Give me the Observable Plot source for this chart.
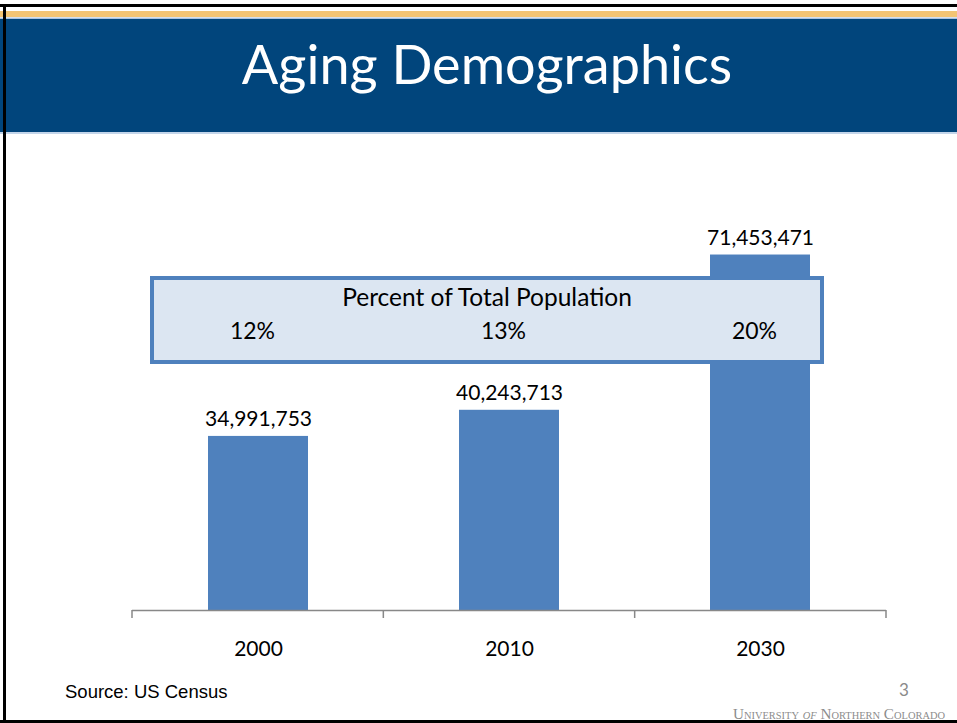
<!DOCTYPE html>
<html><head><meta charset="utf-8">
<script src="https://cdn.jsdelivr.net/npm/d3@7"></script>
<script src="https://cdn.jsdelivr.net/npm/@observablehq/plot@0.6"></script>
<style>
html,body{margin:0;padding:0;background:#fff;}
#slide{position:relative;width:957px;height:723px;overflow:hidden;background:#fff;}
#deco{position:absolute;left:0;top:0;}
#chart{position:absolute;left:0;top:140px;}
</style>
</head><body>
<div id="slide">
<svg id="deco" width="957" height="723" xmlns="http://www.w3.org/2000/svg">
  <rect x="0" y="4" width="957" height="3" fill="#000"/>
  <rect x="0" y="11" width="957" height="6" fill="#F3C474"/>
  <rect x="0" y="17.5" width="957" height="1.5" fill="#A9C2DF"/>
  <rect x="0" y="19" width="957" height="113" fill="#01457C"/>
  <rect x="0" y="132" width="957" height="2" fill="#C3D5EA"/>
  <text x="487" y="84" text-anchor="middle" fill="#fff" font-family="Lato" font-size="54">Aging Demographics</text>
  <text x="65" y="698" fill="#000" font-family="Liberation Sans, Arial" font-size="18.5">Source: US Census</text>
  <text x="904" y="696" text-anchor="middle" fill="#8a8a8a" font-family="Lato" font-size="17">3</text>
  <text x="945" y="719" text-anchor="end" fill="#8c8c8c" font-family="Liberation Serif, serif" font-size="14.5" style="font-variant:small-caps" textLength="212" lengthAdjust="spacingAndGlyphs">University <tspan font-style="italic">of</tspan> Northern Colorado</text>
  <rect x="3" y="4" width="3" height="719" fill="#000"/>
  <rect x="0" y="720" width="957" height="3" fill="#000"/>
</svg>
<div id="chart"></div>
</div>
<script>
const years = ["2000", "2010", "2030"];
const population = [34991753, 40243713, 71453471];
const shares = ["12%", "13%", "20%"];
const boxTitle = "Percent of Total Population";

const data = years.map((y, i) => ({year: y, pop: population[i], share: shares[i]}));
const fmt = d3.format(",");
const NS = "http://www.w3.org/2000/svg";

function el(name, attrs) {
  const e = document.createElementNS(NS, name);
  for (const k in attrs) e.setAttribute(k, attrs[k]);
  return e;
}

// tick marks at category boundaries
function boundaryTicks(index, scales, values, dims) {
  const g = el("g", {});
  const x0 = dims.marginLeft, x1 = dims.width - dims.marginRight;
  const yb = dims.height - dims.marginBottom;
  const n = years.length;
  for (let i = 0; i <= n; i++) {
    const x = x0 + (x1 - x0) * i / n;
    g.appendChild(el("line", {x1: x, x2: x, y1: yb, y2: yb + 8, stroke: "#888", "stroke-width": 1.5}));
  }
  return g;
}

// callout box
function callout() {
  const g = el("g", {});
  g.appendChild(el("rect", {x: 154, y: 140, width: 670, height: 84, fill: "#9a9a9a", opacity: 0.45}));
  g.appendChild(el("rect", {x: 152, y: 138, width: 670, height: 84, fill: "#DCE6F2", stroke: "#4F81BD", "stroke-width": 4}));
  const t = el("text", {x: 487, y: 166, "text-anchor": "middle", "font-family": "Lato", "font-size": 24.5, fill: "#000"});
  t.textContent = boxTitle;
  g.appendChild(t);
  return g;
}

const chart = Plot.plot({
  width: 957,
  height: 530,
  marginTop: 72,
  marginBottom: 60,
  marginLeft: 132,
  marginRight: 71,
  x: {domain: years, paddingInner: 0.6, paddingOuter: 0.3, label: null},
  y: {domain: [0, 80e6], axis: null},
  style: {background: "transparent", fontFamily: "Lato", color: "#000", overflow: "visible"},
  marks: [
    Plot.barY(data, {x: "year", y: "pop", fill: "#4F81BD"}),
    Plot.text(data, {x: "year", y: "pop", text: d => fmt(d.pop), lineAnchor: "bottom", dy: -10, fontSize: 21, fill: "#000"}),
    Plot.ruleY([0], {stroke: "#888", strokeWidth: 1.5}),
    boundaryTicks,
    Plot.axisX({tickSize: 0, tickPadding: 31, fontSize: 21, fill: "#000"}),
    callout,
    Plot.text(data, {x: "year", text: "share", frameAnchor: "top", dx: -6, dy: 110, fontSize: 23, fill: "#000"})
  ]
});
document.getElementById("chart").appendChild(chart);
</script>
</body></html>
